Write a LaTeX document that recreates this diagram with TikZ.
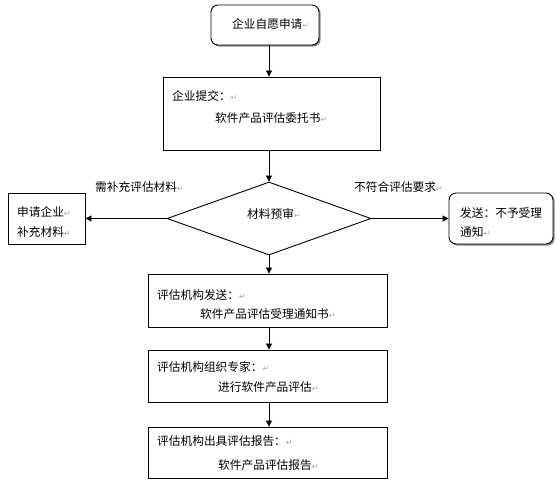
\documentclass[tikz,border=0pt]{standalone}
\usepackage{fontspec}
\setmainfont{Noto Sans CJK SC}
\newfontfamily\symfont{DejaVu Sans}
\usetikzlibrary{arrows.meta,shapes.geometric,shadows}
\newcommand\retmark{{\color{black!35}\symfont\fontsize{8}{8}\selectfont ↵}}
\tikzset{
  box/.style={draw, line width=0.9pt, inner sep=0pt},
  rbox/.style={draw, line width=0.9pt, inner sep=0pt, rounded corners=7pt, fill=white,
    drop shadow={shadow xshift=1.6pt, shadow yshift=-1.6pt, fill=black!45, opacity=1}},
  dia/.style={draw, line width=0.9pt, shape=diamond, inner sep=0pt},
  txt/.style={font=\fontsize{11.7}{12}\selectfont, inner sep=0pt, anchor=west},
  arr/.style={-{Triangle[length=6pt,width=6pt]}, line width=0.9pt},
}
\begin{document}
\begin{tikzpicture}[x=1pt,y=-1pt]
\useasboundingbox[fill=white] (0,0) rectangle (557,486);
% shapes
\node[rbox, minimum width=108pt, minimum height=40pt] (top) at (265,25) {};
\node[box, minimum width=217pt, minimum height=73pt] (b2) at (271.5,113.5) {};
\node[dia, minimum width=204pt, minimum height=73pt] (d) at (269,218.5) {};
\node[box, minimum width=77pt, minimum height=51pt] (lb) at (46.5,218.5) {};
\node[rbox, minimum width=104pt, minimum height=51pt] (rb) at (501,218.5) {};
\node[box, minimum width=239pt, minimum height=53pt] (b3) at (267.5,300.5) {};
\node[box, minimum width=239pt, minimum height=52pt] (b4) at (267.5,376) {};
\node[box, minimum width=239pt, minimum height=51pt] (b5) at (267.5,452.5) {};
% texts
\node[txt] (t1) at (232,24) {企业自愿申请\retmark};
\node[txt] (t2a) at (172,96) {企业提交：\retmark};
\node[txt] (t2b) at (215,118) {软件产品评估委托书\retmark};
\node[txt] (tl) at (95,187) {需补充评估材料\retmark};
\node[txt] (tla) at (17,212) {申请企业\retmark};
\node[txt] (tlb) at (17,232) {补充材料\retmark};
\node[txt] (td) at (247,214) {材料预审\retmark};
\node[txt] (tr) at (354,187) {不符合评估要求\retmark};
\node[txt] (tra) at (460,213) {发送：不予受理};
\node[txt] (trb) at (460,232) {通知\retmark};
\node[txt] (t3a) at (157,295) {评估机构发送：\retmark};
\node[txt] (t3b) at (200,314) {软件产品评估受理通知书\retmark};
\node[txt] (t4a) at (157,367) {评估机构组织专家：\retmark};
\node[txt] (t4b) at (218,387) {进行软件产品评估\retmark};
\node[txt] (t5a) at (157,441) {评估机构出具评估报告：\retmark};
\node[txt] (t5b) at (218,465) {软件产品评估报告\retmark};
% connectors
\draw[arr] (top.south -| d.north) -- (b2.north -| d.north);
\draw[arr] (b2.south -| d.north) -- (d.north);
\draw[arr] (d.west) -- (d.west -| lb.east);
\draw[arr] (d.east) -- (d.east -| rb.west);
\draw[arr] (d.south) -- (b3.north -| d.south);
\draw[arr] (b3.south -| d.south) -- (b4.north -| d.south);
\draw[arr] (b4.south -| d.south) -- (b5.north -| d.south);
\end{tikzpicture}
\end{document}
